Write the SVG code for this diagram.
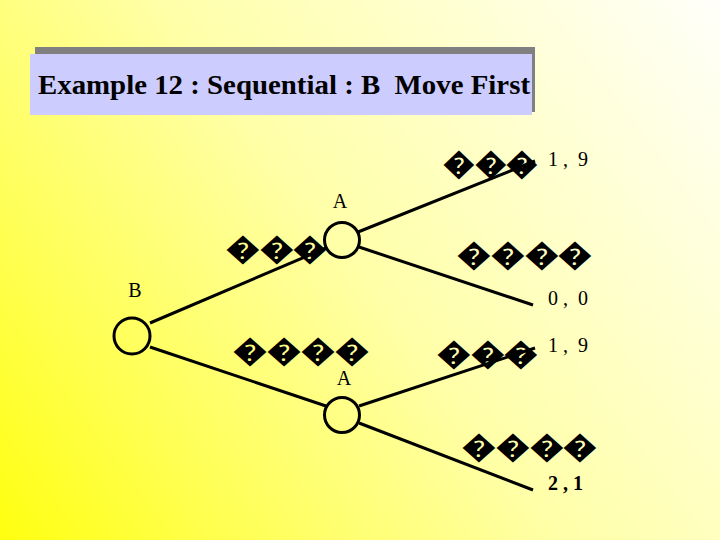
<svg xmlns="http://www.w3.org/2000/svg" width="720" height="540" viewBox="0 0 720 540">
<defs>
<linearGradient id="bg" gradientUnits="userSpaceOnUse" x1="0" y1="540" x2="720" y2="0">
<stop offset="0" stop-color="#FFFF10"/>
<stop offset="0.2" stop-color="#FFFF50"/>
<stop offset="0.5" stop-color="#FFFFA8"/>
<stop offset="1" stop-color="#FFFFFA"/>
</linearGradient>
<style>
.node{fill:none;stroke:#000;stroke-width:3}
.edge{stroke:#000;stroke-width:3;fill:none}
.lbl{font-family:"Liberation Serif","Times New Roman",serif;font-size:20px;fill:#000}
.pay{font-family:"Liberation Serif","Times New Roman",serif;font-size:20px;fill:#000}
.tofu{font-family:"Liberation Sans",sans-serif;font-size:30px;font-weight:bold;fill:#000}
.title{font-family:"Liberation Serif","Times New Roman",serif;font-size:27px;font-weight:bold;fill:#000}
</style>
</defs>
<rect x="0" y="0" width="720" height="540" fill="url(#bg)"/>
<g id="title">
<rect x="35" y="47" width="500" height="65" fill="#808080"/>
<rect x="30" y="54" width="502" height="61" fill="#CCCCFF"/>
<text class="title" x="38" y="94" textLength="492" lengthAdjust="spacingAndGlyphs" xml:space="preserve">Example 12 : Sequential : B  Move First</text>
</g>
<g id="connectors">
<line class="edge" x1="150" y1="323" x2="326" y2="248"/>
<line class="edge" x1="150" y1="347" x2="326" y2="406"/>
<line class="edge" x1="358" y1="232" x2="535" y2="161"/>
<line class="edge" x1="359" y1="247" x2="533" y2="305"/>
<line class="edge" x1="359" y1="406" x2="535" y2="348"/>
<line class="edge" x1="359" y1="423" x2="533" y2="490"/>
</g>
<g id="nodeB">
<circle class="node" cx="132" cy="336" r="18"/>
<text class="lbl" x="135" y="297" text-anchor="middle">B</text>
</g>
<g id="nodeA1">
<circle class="node" cx="342" cy="240" r="17.5"/>
<text class="lbl" x="340" y="208" text-anchor="middle">A</text>
</g>
<g id="nodeA2">
<circle class="node" cx="342" cy="415" r="17.5"/>
<text class="lbl" x="344" y="385" text-anchor="middle">A</text>
</g>
<g id="edge-labels">
<text class="tofu" x="226" y="259" textLength="101" lengthAdjust="spacingAndGlyphs">���</text>
<text class="tofu" x="233" y="361" font-size="28" textLength="136" lengthAdjust="spacingAndGlyphs">����</text>
<text class="tofu" x="443" y="174" textLength="95" lengthAdjust="spacingAndGlyphs">���</text>
<text class="tofu" x="457" y="265" textLength="135" lengthAdjust="spacingAndGlyphs">����</text>
<text class="tofu" x="437" y="364" textLength="101" lengthAdjust="spacingAndGlyphs">���</text>
<text class="tofu" x="462" y="457" textLength="135" lengthAdjust="spacingAndGlyphs">����</text>
</g>
<g id="payoffs">
<text class="pay" x="548" y="166" xml:space="preserve">1 ,  9</text>
<text class="pay" x="548" y="305" xml:space="preserve">0 ,  0</text>
<text class="pay" x="548" y="352" xml:space="preserve">1 ,  9</text>
<text class="pay" x="548" y="490" font-weight="bold">2 , 1</text>
</g>
</svg>
